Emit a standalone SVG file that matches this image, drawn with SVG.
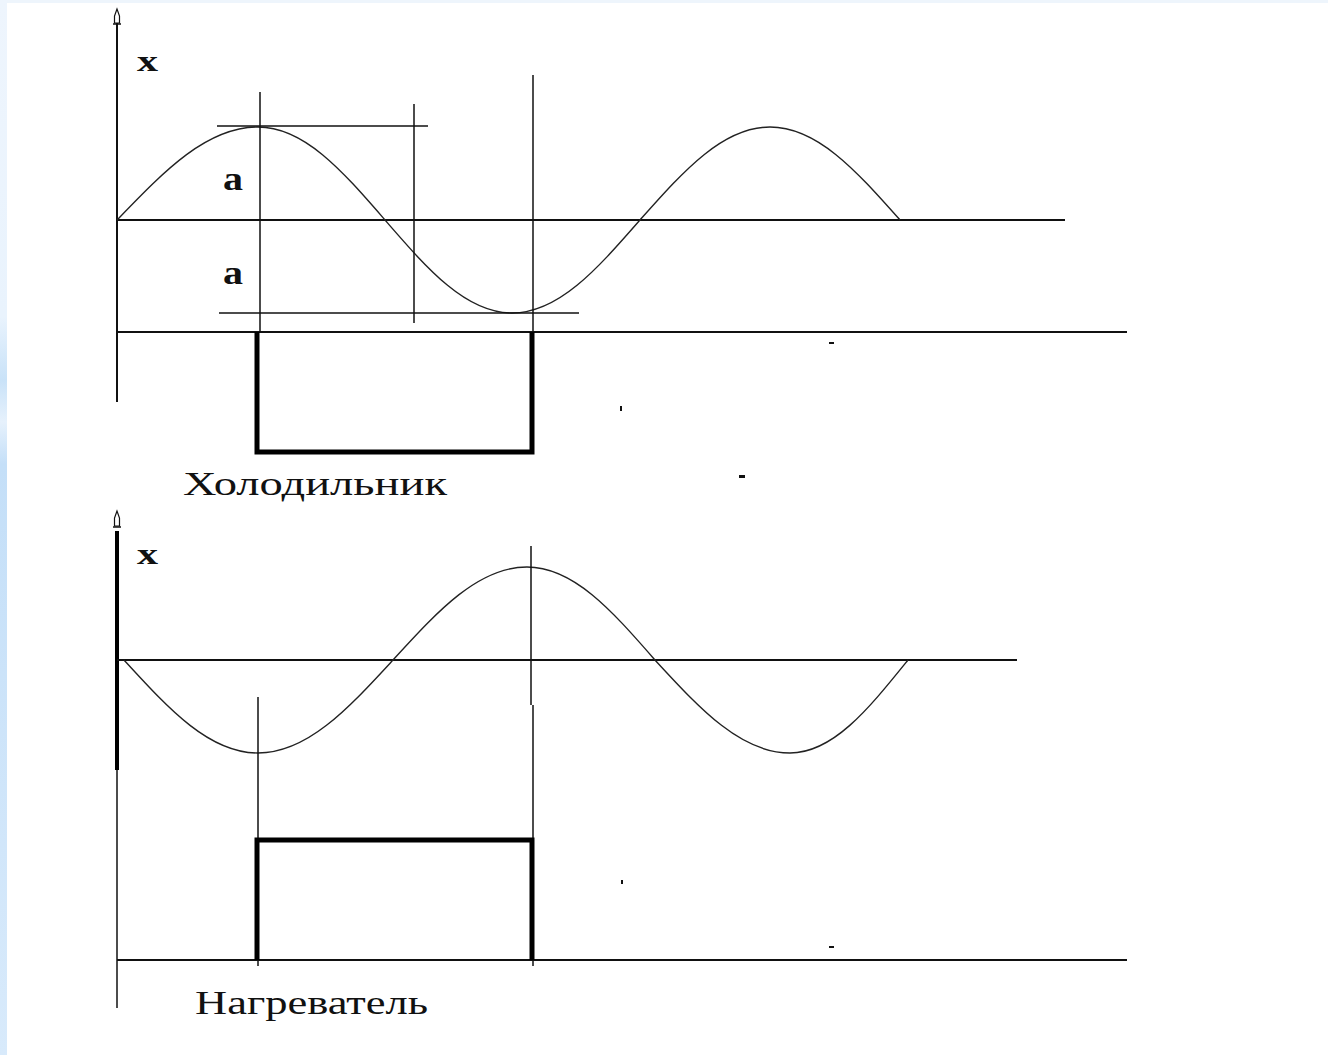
<svg xmlns="http://www.w3.org/2000/svg" width="1328" height="1055" viewBox="0 0 1328 1055">
<defs>
<linearGradient id="strip" x1="0" y1="0" x2="0" y2="1">
<stop offset="0" stop-color="#eef5fd"/>
<stop offset="0.3" stop-color="#e9f3fd"/>
<stop offset="0.36" stop-color="#c9e2f8"/>
<stop offset="0.4" stop-color="#e6f1fc"/>
<stop offset="0.44" stop-color="#c4dff8"/>
<stop offset="1" stop-color="#d8eafb"/>
</linearGradient>
</defs>
<style>
.axis{stroke:#111;stroke-width:2;fill:none}
.thin{stroke:#111;stroke-width:1.5;fill:none}
.wave{stroke:#222;stroke-width:1.4;fill:none}
.thick{stroke:#000;stroke-width:5;fill:none;stroke-linejoin:miter}
.arrow{stroke:#111;stroke-width:1.2;fill:#fff}
.lbl{font-family:"Liberation Serif","Times New Roman",serif;fill:#111}
.dot{fill:#111}
</style>
<rect x="0" y="0" width="1328" height="1055" fill="#fff"/>
<rect x="0" y="0" width="1328" height="3" fill="#eef5fc"/>
<rect x="0" y="0" width="7" height="1055" fill="url(#strip)"/>

<g id="top-graph">
<g id="top-axes">
<line class="axis" x1="117" y1="22" x2="117" y2="402"/>
<path class="arrow" d="M117,9 L114.5,16 L114.5,23 L119.5,23 L119.5,16 Z"/>
<line class="thin" x1="113" y1="24" x2="121" y2="24"/>
<line class="axis" x1="117" y1="220" x2="1065" y2="220"/>
<line class="axis" x1="117" y1="332" x2="1127" y2="332"/>
</g>
<path id="top-wave" class="wave" d="M117,220 C163,172.4 205.8,127 258,127 C305,127 343.6,172.4 385,220 C426.4,267.6 465,313 512,313 C559.4,313 598.3,267.6 640,220 C682.4,172.4 721.9,127 770,127 C818.1,127 857.6,172.4 900,220"/>
<g id="top-guides">
<line class="thin" x1="260" y1="92" x2="260" y2="332"/>
<line class="thin" x1="217" y1="126" x2="428" y2="126"/>
<line class="thin" x1="414" y1="104" x2="414" y2="323"/>
<line class="thin" x1="219" y1="313" x2="579" y2="313"/>
<line class="thin" x1="533" y1="75" x2="533" y2="332"/>
</g>
<path id="cooler" class="thick" d="M257,332 V452 H532 V332"/>
<text class="lbl" x="137" y="71" font-size="30" font-weight="bold" textLength="21" lengthAdjust="spacingAndGlyphs">x</text>
<text class="lbl" x="223" y="190" font-size="34" font-weight="bold" textLength="20" lengthAdjust="spacingAndGlyphs">a</text>
<text class="lbl" x="223" y="284" font-size="34" font-weight="bold" textLength="20" lengthAdjust="spacingAndGlyphs">a</text>
<text class="lbl" x="183" y="495" font-size="33" textLength="264" lengthAdjust="spacingAndGlyphs">Холодильник</text>
<rect class="dot" x="620" y="406" width="2" height="5"/>
<rect class="dot" x="829" y="342" width="5" height="2"/>
<rect class="dot" x="739" y="475" width="6" height="3"/>
</g>

<g id="bottom-graph">
<g id="bottom-axes">
<line x1="117" y1="531" x2="117" y2="770" stroke="#000" stroke-width="4"/>
<line class="thin" x1="117" y1="770" x2="117" y2="1008"/>
<path class="arrow" d="M117,511 L114.5,518 L114.5,526 L119.5,526 L119.5,518 Z"/>
<line class="thin" x1="113" y1="527" x2="121" y2="527"/>
<line class="axis" x1="117" y1="660" x2="1017" y2="660"/>
<line class="axis" x1="117" y1="960" x2="1127" y2="960"/>
</g>
<path id="bottom-wave" class="wave" d="M124,660 C167.7,707.6 208.4,753 258,753 C308,753 349,707.6 393,660 C436.7,612.4 477.4,567 527,567 C574.4,567 613.3,612.4 655,660 C699,707.6 740,753 790,753 C833.7,753 869.5,707.6 908,660"/>
<g id="bottom-guides">
<line class="thin" x1="258" y1="697" x2="258" y2="966"/>
<line class="thin" x1="531" y1="546" x2="531" y2="705"/>
<line class="thin" x1="533" y1="705" x2="533" y2="966"/>
</g>
<path id="heater" class="thick" d="M257,960 V840 H532 V960"/>
<text class="lbl" x="137" y="564" font-size="30" font-weight="bold" textLength="21" lengthAdjust="spacingAndGlyphs">x</text>
<text class="lbl" x="195" y="1014" font-size="33" textLength="233" lengthAdjust="spacingAndGlyphs">Нагреватель</text>
<rect class="dot" x="621" y="880" width="2" height="4"/>
<rect class="dot" x="829" y="946" width="5" height="2"/>
</g>
</svg>
